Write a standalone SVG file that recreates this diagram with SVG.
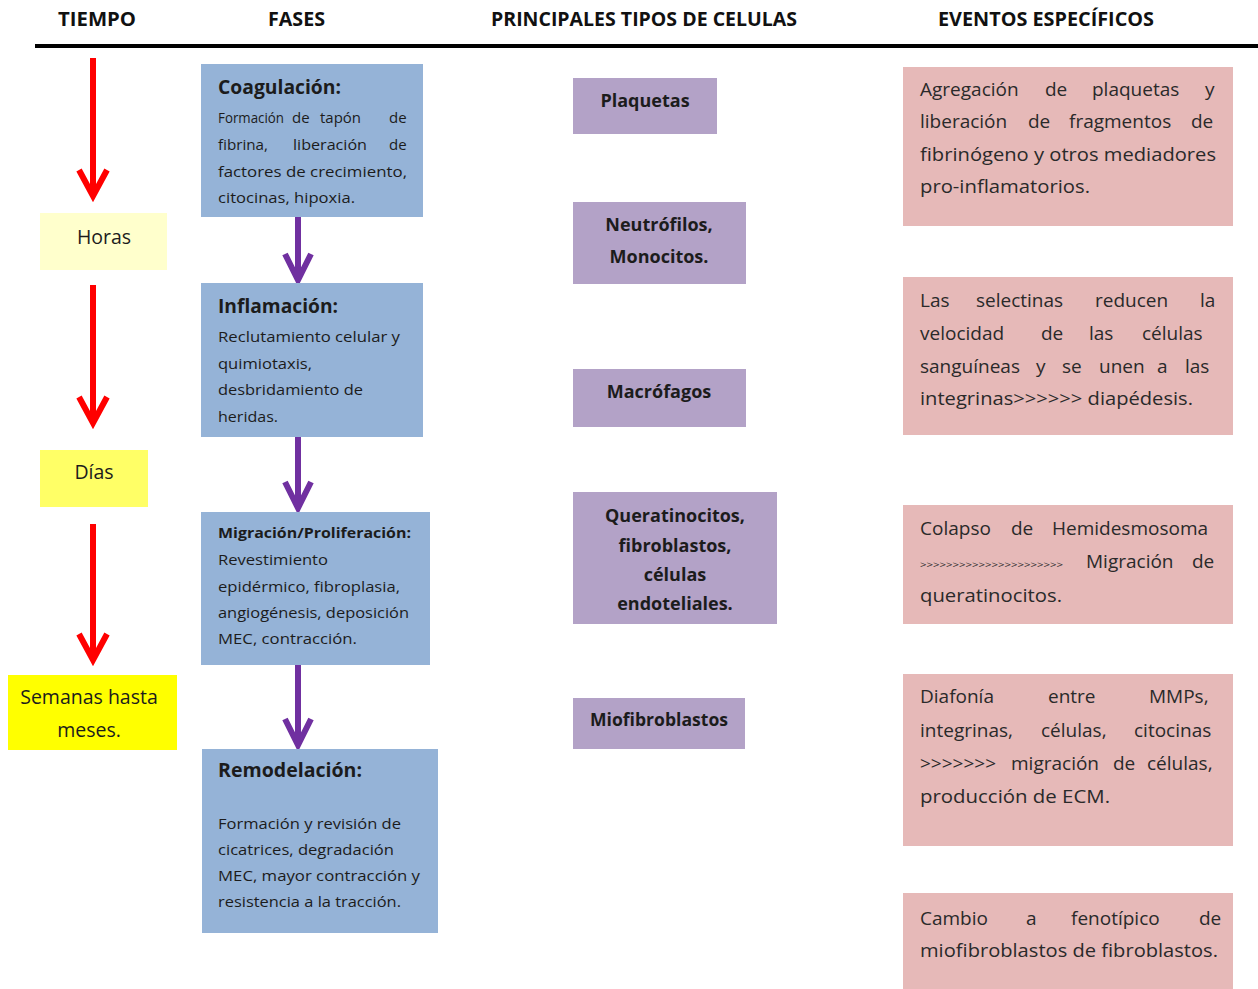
<svg xmlns="http://www.w3.org/2000/svg" width="1258" height="989" viewBox="0 0 1258 989">
<defs>
<style>
text{font-family:"Open Sans","Liberation Sans",sans-serif;fill:#1c1c1c}
.hd{font-family:"Open Sans","Liberation Sans",sans-serif;font-weight:700;font-size:19px;fill:#111}
.t{font-weight:700;font-size:19px}
.b{font-size:15px}
.c{font-weight:700;font-size:18px;text-anchor:middle}
.e{font-size:19px;fill:#2a2a2a}
.tm{font-size:19.5px;text-anchor:middle}
.blue{fill:#95B3D7}
.pur{fill:#B3A2C7}
.pink{fill:#E6B9B8}
.red{stroke:#FF0000;stroke-width:6;fill:none;stroke-linecap:butt}
.vio{stroke:#7030A0;stroke-width:6;fill:none}
</style>
</defs>
<rect width="1258" height="989" fill="#ffffff"/>

<g id="header">
<text class="hd" x="58" y="26" textLength="78" lengthAdjust="spacingAndGlyphs">TIEMPO</text>
<text class="hd" x="268" y="26" textLength="57" lengthAdjust="spacingAndGlyphs">FASES</text>
<text class="hd" x="491" y="26" textLength="306" lengthAdjust="spacingAndGlyphs">PRINCIPALES TIPOS DE CELULAS</text>
<text class="hd" x="938" y="26" textLength="216" lengthAdjust="spacingAndGlyphs">EVENTOS ESPECÍFICOS</text>
<rect x="35" y="44" width="1223" height="4" fill="#000"/>
</g>

<g id="connectors">
<path class="red" d="M93 58V196M79 170L93 196L107 170"/>
<path class="red" d="M93 285V423M79 397L93 423L107 397"/>
<path class="red" d="M93 524V660M79 634L93 660L107 634"/>
<path class="vio" d="M298 217V280M285 254L298 280L311 254"/>
<path class="vio" d="M298 437V508M285 482L298 508L311 482"/>
<path class="vio" d="M298 665V745M285 719L298 745L311 719"/>
</g>

<g id="horas">
<rect x="40" y="213" width="127" height="57" fill="#FFFFCC"/>
<text class="tm" x="104" y="244">Horas</text>
</g>
<g id="dias">
<rect x="40" y="450" width="108" height="57" fill="#FFFF66"/>
<text class="tm" x="94" y="479">Días</text>
</g>
<g id="semanas">
<rect x="8" y="675" width="169" height="75" fill="#FFFF00"/>
<text class="tm" x="89" y="704">Semanas hasta</text>
<text class="tm" x="89" y="737">meses.</text>
</g>

<g id="coagulacion">
<rect class="blue" x="201" y="64" width="222" height="153"/>
<text class="t" x="218" y="94" textLength="123" lengthAdjust="spacingAndGlyphs">Coagulación:</text>
<text class="b" x="218" y="123" textLength="66" lengthAdjust="spacingAndGlyphs">Formación</text>
<text class="b" x="292" y="123">de</text>
<text class="b" x="320" y="123" textLength="41" lengthAdjust="spacingAndGlyphs">tapón</text>
<text class="b" x="389" y="123">de</text>
<text class="b" x="218" y="150" textLength="50" lengthAdjust="spacingAndGlyphs">fibrina,</text>
<text class="b" x="293" y="150" textLength="74" lengthAdjust="spacingAndGlyphs">liberación</text>
<text class="b" x="389" y="150">de</text>
<text class="b" x="218" y="177" textLength="189" lengthAdjust="spacingAndGlyphs">factores de crecimiento,</text>
<text class="b" x="218" y="203" textLength="137" lengthAdjust="spacingAndGlyphs">citocinas, hipoxia.</text>
</g>

<g id="inflamacion">
<rect class="blue" x="201" y="283" width="222" height="154"/>
<text class="t" x="218" y="313" textLength="120" lengthAdjust="spacingAndGlyphs">Inflamación:</text>
<text class="b" x="218" y="342" textLength="182" lengthAdjust="spacingAndGlyphs">Reclutamiento celular y</text>
<text class="b" x="218" y="369" textLength="94" lengthAdjust="spacingAndGlyphs">quimiotaxis,</text>
<text class="b" x="218" y="395" textLength="145" lengthAdjust="spacingAndGlyphs">desbridamiento de</text>
<text class="b" x="218" y="422" textLength="60" lengthAdjust="spacingAndGlyphs">heridas.</text>
</g>

<g id="migracion">
<rect class="blue" x="201" y="512" width="229" height="153"/>
<text class="b" style="font-weight:700" x="218" y="538" textLength="193" lengthAdjust="spacingAndGlyphs">Migración/Proliferación:</text>
<text class="b" x="218" y="565" textLength="110" lengthAdjust="spacingAndGlyphs">Revestimiento</text>
<text class="b" x="218" y="592" textLength="182" lengthAdjust="spacingAndGlyphs">epidérmico, fibroplasia,</text>
<text class="b" x="218" y="618" textLength="191" lengthAdjust="spacingAndGlyphs">angiogénesis, deposición</text>
<text class="b" x="218" y="644" textLength="139" lengthAdjust="spacingAndGlyphs">MEC, contracción.</text>
</g>

<g id="remodelacion">
<rect class="blue" x="202" y="749" width="236" height="184"/>
<text class="t" x="218" y="777" textLength="144" lengthAdjust="spacingAndGlyphs">Remodelación:</text>
<text class="b" x="218" y="829" textLength="183" lengthAdjust="spacingAndGlyphs">Formación y revisión de</text>
<text class="b" x="218" y="855" textLength="176" lengthAdjust="spacingAndGlyphs">cicatrices, degradación</text>
<text class="b" x="218" y="881" textLength="202" lengthAdjust="spacingAndGlyphs">MEC, mayor contracción y</text>
<text class="b" x="218" y="907" textLength="183" lengthAdjust="spacingAndGlyphs">resistencia a la tracción.</text>
</g>

<g id="plaquetas">
<rect class="pur" x="573" y="78" width="144" height="56"/>
<text class="c" x="645" y="107">Plaquetas</text>
</g>
<g id="neutrofilos">
<rect class="pur" x="573" y="202" width="173" height="82"/>
<text class="c" x="659" y="231">Neutrófilos,</text>
<text class="c" x="659" y="263">Monocitos.</text>
</g>
<g id="macrofagos">
<rect class="pur" x="573" y="369" width="173" height="58"/>
<text class="c" x="659" y="398">Macrófagos</text>
</g>
<g id="queratinocitos">
<rect class="pur" x="573" y="492" width="204" height="132"/>
<text class="c" x="675" y="522">Queratinocitos,</text>
<text class="c" x="675" y="552">fibroblastos,</text>
<text class="c" x="675" y="581">células</text>
<text class="c" x="675" y="610">endoteliales.</text>
</g>
<g id="miofibroblastos">
<rect class="pur" x="573" y="698" width="172" height="51"/>
<text class="c" x="659" y="726" textLength="138" lengthAdjust="spacingAndGlyphs">Miofibroblastos</text>
</g>

<g id="evento1">
<rect class="pink" x="903" y="67" width="330" height="159"/>
<text class="e" y="96"><tspan x="920">Agregación</tspan><tspan x="1045">de</tspan><tspan x="1092">plaquetas</tspan><tspan x="1205">y</tspan></text>
<text class="e" y="128"><tspan x="920">liberación</tspan><tspan x="1028">de</tspan><tspan x="1069">fragmentos</tspan><tspan x="1191">de</tspan></text>
<text class="e" x="920" y="161" textLength="296" lengthAdjust="spacingAndGlyphs">fibrinógeno y otros mediadores</text>
<text class="e" x="920" y="193" textLength="170" lengthAdjust="spacingAndGlyphs">pro-inflamatorios.</text>
</g>

<g id="evento2">
<rect class="pink" x="903" y="277" width="330" height="158"/>
<text class="e" y="307"><tspan x="920">Las</tspan><tspan x="976">selectinas</tspan><tspan x="1095">reducen</tspan><tspan x="1200">la</tspan></text>
<text class="e" y="340"><tspan x="920">velocidad</tspan><tspan x="1041">de</tspan><tspan x="1089">las</tspan><tspan x="1142">células</tspan></text>
<text class="e" y="373"><tspan x="920">sanguíneas</tspan><tspan x="1036">y</tspan><tspan x="1062">se</tspan><tspan x="1099">unen</tspan><tspan x="1157">a</tspan><tspan x="1185">las</tspan></text>
<text class="e" x="920" y="405" textLength="273" lengthAdjust="spacingAndGlyphs">integrinas&gt;&gt;&gt;&gt;&gt;&gt; diapédesis.</text>
</g>

<g id="evento3">
<rect class="pink" x="903" y="505" width="330" height="119"/>
<text class="e" y="535"><tspan x="920">Colapso</tspan><tspan x="1011">de</tspan><tspan x="1052">Hemidesmosoma</tspan></text>
<text class="e" x="920" y="568" style="font-size:9px" textLength="143" lengthAdjust="spacingAndGlyphs">&gt;&gt;&gt;&gt;&gt;&gt;&gt;&gt;&gt;&gt;&gt;&gt;&gt;&gt;&gt;&gt;&gt;&gt;&gt;&gt;&gt;&gt;</text>
<text class="e" y="568"><tspan x="1086">Migración</tspan><tspan x="1192">de</tspan></text>
<text class="e" x="920" y="602" textLength="142" lengthAdjust="spacingAndGlyphs">queratinocitos.</text>
</g>

<g id="evento4">
<rect class="pink" x="903" y="674" width="330" height="172"/>
<text class="e" y="703"><tspan x="920">Diafonía</tspan><tspan x="1048">entre</tspan><tspan x="1149">MMPs,</tspan></text>
<text class="e" y="737"><tspan x="920">integrinas,</tspan><tspan x="1041">células,</tspan><tspan x="1134">citocinas</tspan></text>
<text class="e" y="770"><tspan x="920">&gt;&gt;&gt;&gt;&gt;&gt;&gt;</tspan><tspan x="1011">migración</tspan><tspan x="1113">de</tspan><tspan x="1147">células,</tspan></text>
<text class="e" x="920" y="803" textLength="190" lengthAdjust="spacingAndGlyphs">producción de ECM.</text>
</g>

<g id="evento5">
<rect class="pink" x="903" y="893" width="330" height="96"/>
<text class="e" y="925"><tspan x="920">Cambio</tspan><tspan x="1026">a</tspan><tspan x="1071">fenotípico</tspan><tspan x="1199">de</tspan></text>
<text class="e" x="920" y="957" textLength="298" lengthAdjust="spacingAndGlyphs">miofibroblastos de fibroblastos.</text>
</g>
</svg>
